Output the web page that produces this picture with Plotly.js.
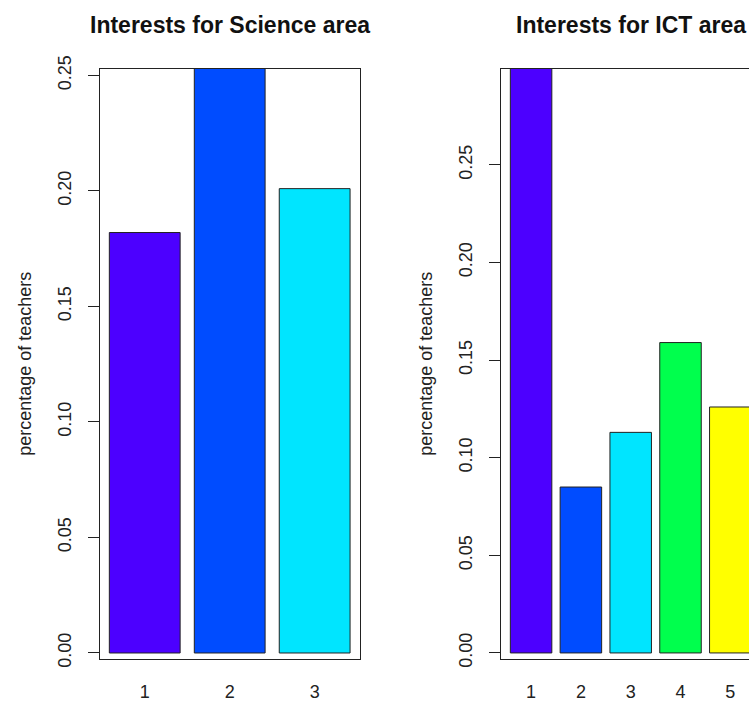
<!DOCTYPE html>
<html>
<head>
<meta charset="utf-8">
<script src="https://cdn.plot.ly/plotly-3.0.1.min.js"></script>
<style>
  html, body { margin: 0; padding: 0; background: #fff; overflow: hidden; }
  #chart { width: 762px; height: 704px; }
</style>
</head>
<body>
<div id="chart"></div>
<script>
// ---- data ----
const scienceCategories = ['1', '2', '3'];
const scienceValues = [0.182, 0.254, 0.201];
const scienceColors = ['#4C00FF', '#004CFF', '#00E5FF'];

const ictCategories = ['1', '2', '3', '4', '5'];
const ictValues = [0.300, 0.085, 0.113, 0.159, 0.126];
const ictColors = ['#4C00FF', '#004CFF', '#00E5FF', '#00FF4D', '#FFFF00'];

const yTickVals = [0, 0.05, 0.10, 0.15, 0.20, 0.25];
const yAxisTitle = 'percentage of teachers';
const titleScience = 'Interests for Science area';
const titleICT = 'Interests for ICT area';

// ---- layout geometry ----
const W = 762, H = 704;
const leftDom = [99.7 / W, 359.7 / W];
const rightDom = [500.7 / W, 760.7 / W];
const yDom = [(H - 659) / H, (H - 68.5) / H];

const FONT = 'Liberation Sans, Arial, sans-serif';

const traces = [
  {
    type: 'bar', x: scienceCategories, y: scienceValues,
    xaxis: 'x', yaxis: 'y',
    marker: { color: scienceColors, line: { color: '#222', width: 1 } },
    hoverinfo: 'x+y', showlegend: false
  },
  {
    type: 'bar', x: ictCategories, y: ictValues,
    xaxis: 'x2', yaxis: 'y2',
    marker: { color: ictColors, line: { color: '#222', width: 1 } },
    hoverinfo: 'x+y', showlegend: false
  }
];

function xAxis(dom, range, anchor) {
  return {
    domain: dom, anchor: anchor, type: 'category',
    range: range,
    showline: true, mirror: true, linecolor: '#222', linewidth: 1,
    ticks: '', showgrid: false, zeroline: false,
    tickfont: { family: FONT, size: 18, color: '#222' },
    ticklabelstandoff: 16, fixedrange: true
  };
}
function yAxis(range, anchor) {
  return {
    domain: yDom, anchor: anchor, range: range,
    tickvals: yTickVals, tickformat: '.2f', tickangle: -90,
    ticks: 'outside', ticklen: 11, tickwidth: 1, tickcolor: '#222',
    showline: true, mirror: true, linecolor: '#222', linewidth: 1,
    showgrid: false, zeroline: false,
    tickfont: { family: FONT, size: 18, color: '#222' },
    ticklabelstandoff: 10,
    title: { text: yAxisTitle, font: { family: FONT, size: 18, color: '#222' }, standoff: 18 },
    fixedrange: true
  };
}

const layout = {
  width: W, height: H,
  margin: { l: 0, r: 0, t: 0, b: 0 },
  paper_bgcolor: '#fff', plot_bgcolor: '#fff',
  bargap: 1 / 6,
  showlegend: false,
  xaxis: xAxis(leftDom, [-0.53, 2.53], 'y'),
  yaxis: yAxis([-0.0026, 0.2530], 'x'),
  xaxis2: xAxis(rightDom, [-0.61, 4.61], 'y2'),
  yaxis2: yAxis([-0.0031, 0.2994], 'x2'),
  annotations: [
    { text: '<b>' + titleScience + '</b>', xref: 'paper', yref: 'paper',
      x: (leftDom[0] + leftDom[1]) / 2, y: 1 - 25 / H, xanchor: 'center', yanchor: 'middle',
      showarrow: false, font: { family: FONT, size: 23, color: '#111' } },
    { text: '<b>' + titleICT + '</b>', xref: 'paper', yref: 'paper',
      x: (rightDom[0] + rightDom[1]) / 2, y: 1 - 25 / H, xanchor: 'center', yanchor: 'middle',
      showarrow: false, font: { family: FONT, size: 23, color: '#111' } }
  ]
};

Plotly.newPlot('chart', traces, layout, { displayModeBar: false });
</script>
</body>
</html>
